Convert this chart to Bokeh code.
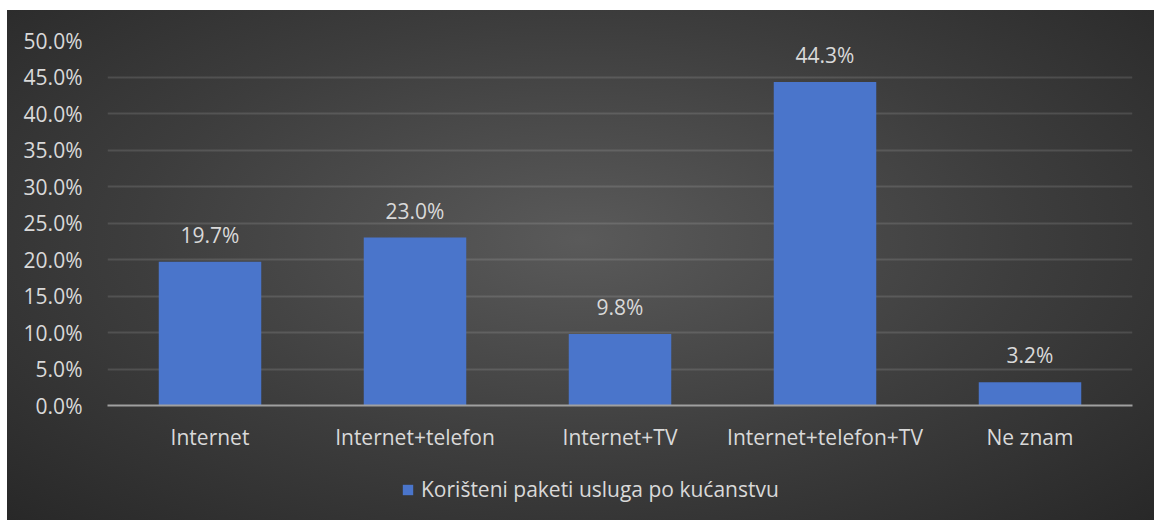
from bokeh.plotting import figure
from bokeh.layouts import column
from bokeh.models import ColumnDataSource, NumeralTickFormatter, LabelSet, Legend, LegendItem, FixedTicker, Range1d
from bokeh.core.properties import value
from bokeh.embed import file_html
from bokeh.resources import INLINE

categories = ["Internet", "Internet+telefon", "Internet+TV", "Internet+telefon+TV", "Ne znam"]
values = [0.197, 0.230, 0.098, 0.443, 0.032]
labels = ["19.7%", "23.0%", "9.8%", "44.3%", "3.2%"]
y_ticks = [0.0, 0.05, 0.10, 0.15, 0.20, 0.25, 0.30, 0.35, 0.40, 0.45, 0.50]
series_name = "Korišteni paketi usluga po kućanstvu"

FONT = "Open Sans"
FS = "21px"
TXT = "#d9d9d9"
BAR = "#4a75cb"

src = ColumnDataSource(dict(cat=categories, val=values, lab=labels))

p = figure(x_range=categories, y_range=Range1d(0, 0.5), width=1147, height=455,
           output_backend="svg", toolbar_location=None,
           min_border_left=100, min_border_right=22, min_border_top=30, min_border_bottom=60)
p.border_fill_color = None
p.background_fill_color = None
p.outline_line_color = None

r = p.vbar(x="cat", top="val", width=0.5, source=src, fill_color=BAR, line_color=None)

p.yaxis.ticker = FixedTicker(ticks=y_ticks)
p.yaxis.formatter = NumeralTickFormatter(format="0.0%")
p.yaxis.axis_line_color = None
p.yaxis.major_tick_line_color = None
p.yaxis.minor_tick_line_color = None
p.yaxis.major_label_standoff = 19
p.xaxis.axis_line_color = "#a0a0a0"
p.xaxis.axis_line_width = 2
p.xaxis.major_tick_line_color = None
p.xaxis.minor_tick_line_color = None
p.xaxis.major_label_standoff = 11
for ax in (p.xaxis, p.yaxis):
    ax.major_label_text_font = FONT
    ax.major_label_text_font_size = FS
    ax.major_label_text_color = TXT

p.xgrid.grid_line_color = None
p.ygrid.grid_line_color = "#ffffff"
p.ygrid.grid_line_alpha = 0.12
p.ygrid.grid_line_width = 2

lbl = LabelSet(x="cat", y="val", text="lab", source=src, y_offset=13,
               text_align="center", text_baseline="bottom",
               text_font=value(FONT), text_font_size=value(FS), text_color=TXT)
p.add_layout(lbl)

# legend strip below the chart (same series, bars fall outside its visible range)
p2 = figure(width=1147, height=55, x_range=p.x_range, y_range=Range1d(1, 2),
            output_backend="svg", toolbar_location=None,
            x_axis_location=None, y_axis_location=None,
            min_border=0)
p2.border_fill_color = None
p2.background_fill_color = None
p2.outline_line_color = None
p2.grid.grid_line_color = None
r2 = p2.vbar(x="cat", top="val", width=0.5, source=src, fill_color=BAR, line_color=None)
legend = Legend(items=[LegendItem(label=series_name, renderers=[r2])],
                location=(294, 17), orientation="horizontal",
                background_fill_alpha=0, border_line_color=None,
                label_text_font=FONT, label_text_font_size=FS, label_text_color=TXT,
                glyph_width=13, glyph_height=13, label_standoff=7, padding=0, margin=0)
p2.add_layout(legend)

layout = column(p, p2, spacing=0)
layout.margin = (10, 0, 0, 7)
layout.styles = {"background-image": "radial-gradient(ellipse at 50% 45%, #5a5a5a 0%, #3d3d3d 55%, #282828 100%)"}

open("out.html", "w").write(file_html(layout, INLINE))
